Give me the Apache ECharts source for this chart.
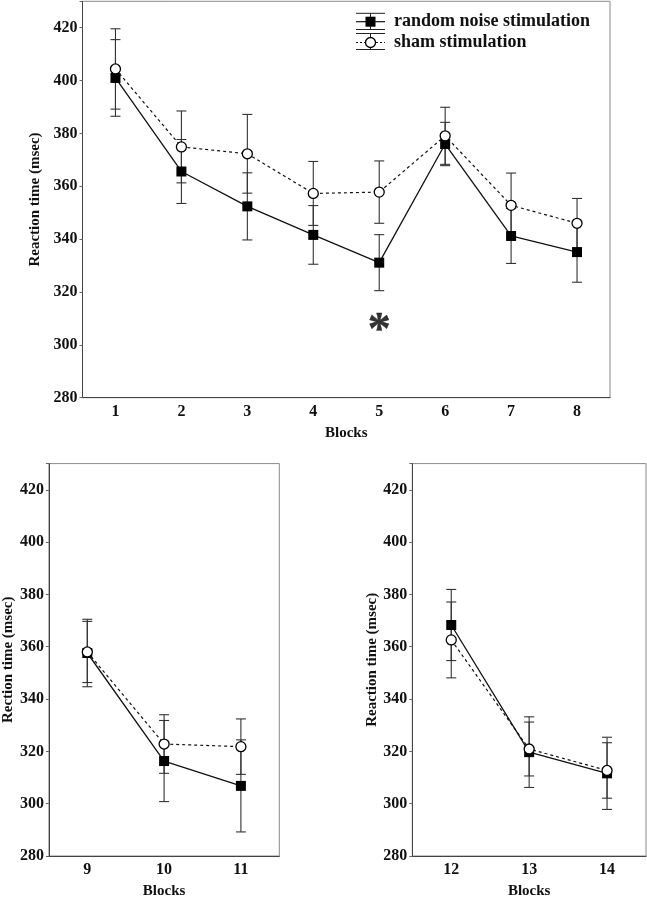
<!DOCTYPE html>
<html>
<head>
<meta charset="utf-8">
<script src="https://cdn.jsdelivr.net/npm/echarts@6/dist/echarts.min.js"></script>
<style>
html,body{margin:0;padding:0;background:#fff;}
#chart{width:647px;height:900px;}
</style>
</head>
<body>
<div id="chart"></div>
<script>
// ---- data ----
const blocksTop = ['1', '2', '3', '4', '5', '6', '7', '8'];
const blocksLeft = ['9', '10', '11'];
const blocksRight = ['12', '13', '14'];

// random noise stimulation (filled squares): mean and half error bar
const noiseMean = [401.0, 365.6, 352.4, 341.6, 331.1, 376.0, 341.2, 335.1, 357.6, 316.3, 306.8, 368.3, 319.7, 311.6];
const noiseErr  = [14.5, 12.1, 12.7, 11.1, 10.6, 8.2, 10.4, 11.4, 12.9, 15.5, 17.6, 13.6, 13.5, 13.8];
// sham stimulation (open circles)
const shamMean  = [404.4, 374.9, 372.3, 357.3, 357.8, 379.1, 352.8, 346.0, 358.0, 322.8, 321.8, 362.6, 320.9, 312.7];
const shamErr   = [15.2, 13.6, 14.9, 12.1, 11.8, 10.8, 12.2, 9.4, 11.7, 11.2, 10.6, 14.5, 10.3, 10.6];

// significance marker
const sigBlock = '5';
const sigValue = 308;

const yMin = 280, yMax = 430, yStep = 20;
const legendNames = ['random noise stimulation', 'sham stimulation'];
const yTitles = ['Reaction time (msec)', 'Rection time (msec)', 'Reaction time (msec)'];
const xTitle = 'Blocks';

// ---- chart ----
const FONT = '"Liberation Serif", "Times New Roman", serif';
const panels = [
  { cats: blocksTop, offset: 0 },
  { cats: blocksLeft, offset: 8 },
  { cats: blocksRight, offset: 11 }
];

const grids = [
  { left: 82.5, top: 1.3, width: 527.5, height: 396.4 },
  { left: 45, top: 463.6, width: 234.3, height: 396.4 },
  { left: 412.3, top: 463.6, width: 233.7, height: 396.4 }
].map(g => Object.assign(g, { show: true, borderColor: '#8a8a8a', borderWidth: 1, backgroundColor: '#fff' }));

const xAxes = panels.map((p, i) => ({
  type: 'category', gridIndex: i, data: p.cats, boundaryGap: true,
  name: xTitle, nameLocation: 'middle', nameGap: 28,
  nameTextStyle: { fontFamily: FONT, fontWeight: 'bold', fontSize: 15, color: '#111' },
  axisLine: { lineStyle: { color: '#444', width: 1 } },
  axisTick: { alignWithLabel: true, inside: true, length: 3, lineStyle: { color: '#666' } },
  axisLabel: { fontFamily: FONT, fontWeight: 'bold', fontSize: 16, color: '#111', margin: 6 },
  splitLine: { show: false }
}));

const yAxes = panels.map((p, i) => ({
  type: 'value', gridIndex: i, min: yMin, max: yMax, interval: yStep,
  name: yTitles[i], nameLocation: 'middle', nameGap: 32, nameRotate: 90,
  nameTextStyle: { fontFamily: FONT, fontWeight: 'bold', fontSize: 15, color: '#111' },
  axisLine: { show: true, lineStyle: { color: '#444', width: 1 } },
  axisTick: { show: true, length: 3, lineStyle: { color: '#666' } },
  axisLabel: { fontFamily: FONT, fontWeight: 'bold', fontSize: 16, color: '#111', margin: 5,
    formatter: v => (v % yStep === 0 ? String(v) : '') },
  splitLine: { show: false }
}));

function errSeries(pi, means, errs, z) {
  const p = panels[pi];
  return {
    type: 'custom', xAxisIndex: pi, yAxisIndex: pi, silent: true, z: z,
    data: p.cats.map((c, i) => [i, means[p.offset + i] - errs[p.offset + i], means[p.offset + i] + errs[p.offset + i]]),
    encode: { x: 0, y: [1, 2] },
    renderItem: function (params, api) {
      const x = api.value(0);
      const lo = api.coord([x, api.value(1)]);
      const hi = api.coord([x, api.value(2)]);
      const w = 5;
      const st = { stroke: '#333', lineWidth: 1.1 };
      return {
        type: 'group', children: [
          { type: 'line', shape: { x1: lo[0], y1: lo[1], x2: hi[0], y2: hi[1] }, style: st },
          { type: 'line', shape: { x1: lo[0] - w, y1: lo[1], x2: lo[0] + w, y2: lo[1] }, style: st },
          { type: 'line', shape: { x1: hi[0] - w, y1: hi[1], x2: hi[0] + w, y2: hi[1] }, style: st }
        ]
      };
    }
  };
}

const series = [];
panels.forEach((p, pi) => {
  series.push(errSeries(pi, noiseMean, noiseErr, 1));
  series.push(errSeries(pi, shamMean, shamErr, 1));
  series.push({
    name: legendNames[0], type: 'line', xAxisIndex: pi, yAxisIndex: pi, z: 3,
    data: noiseMean.slice(p.offset, p.offset + p.cats.length),
    symbol: 'rect', symbolSize: 10, showAllSymbol: true,
    lineStyle: { color: '#111', width: 1.3, type: 'solid' },
    itemStyle: { color: '#000', borderColor: '#000', borderWidth: 0 },
    emphasis: { disabled: true }, animation: false
  });
  series.push({
    name: legendNames[1], type: 'line', xAxisIndex: pi, yAxisIndex: pi, z: 4,
    data: shamMean.slice(p.offset, p.offset + p.cats.length),
    symbol: 'circle', symbolSize: 10, showAllSymbol: true,
    lineStyle: { color: '#111', width: 1.2, type: [3, 3] },
    itemStyle: { color: '#fff', borderColor: '#000', borderWidth: 1.3 },
    emphasis: { disabled: true }, animation: false
  });
});

series.push({
  type: 'scatter', xAxisIndex: 0, yAxisIndex: 0, silent: true,
  data: [[sigBlock, sigValue]], symbolSize: 1, itemStyle: { color: 'rgba(0,0,0,0)' },
  label: { show: true, position: 'inside', formatter: '*', fontFamily: FONT, fontWeight: 'bold',
    fontSize: 46, color: '#000', textBorderColor: '#000', textBorderWidth: 0.4, offset: [0, 8] }
});

// legend drawn as graphic (icons with error caps)
const L = { x0: 356, x1: 385, xc: 370.5, tx: 394 };
const rows = [{ y: 21.7, c1: 13.3, c2: 29.5 }, { y: 42.5, c1: 33.5, c2: 49.5 }];
const lineSt = { stroke: '#222', lineWidth: 1 };
const graphic = [];
rows.forEach((r, i) => {
  graphic.push({ type: 'line', shape: { x1: L.x0, y1: r.c1, x2: L.x1, y2: r.c1 }, style: lineSt });
  graphic.push({ type: 'line', shape: { x1: L.x0, y1: r.c2, x2: L.x1, y2: r.c2 }, style: lineSt });
  graphic.push({ type: 'line', shape: { x1: L.xc, y1: r.c1, x2: L.xc, y2: r.c2 }, style: lineSt });
  graphic.push({ type: 'line', shape: { x1: L.x0, y1: r.y, x2: L.x1, y2: r.y },
    style: { stroke: '#111', lineWidth: 1.2, lineDash: i === 0 ? null : [2, 2] } });
  if (i === 0) {
    graphic.push({ type: 'rect', shape: { x: L.xc - 5, y: r.y - 5, width: 10, height: 10 }, style: { fill: '#000' } });
  } else {
    graphic.push({ type: 'circle', shape: { cx: L.xc, cy: r.y, r: 5 }, style: { fill: '#fff', stroke: '#000', lineWidth: 1.3 } });
  }
  graphic.push({ type: 'text', x: L.tx, y: r.y, style: { text: legendNames[i], fontFamily: FONT, fontWeight: 'bold',
    fontSize: 18, fill: '#111', verticalAlign: 'middle', align: 'left' } });
});

const chart = echarts.init(document.getElementById('chart'), null, { renderer: 'canvas' });
chart.setOption({
  animation: false,
  backgroundColor: '#fff',
  grid: grids, xAxis: xAxes, yAxis: yAxes, series: series, graphic: graphic
});
</script>
</body>
</html>
